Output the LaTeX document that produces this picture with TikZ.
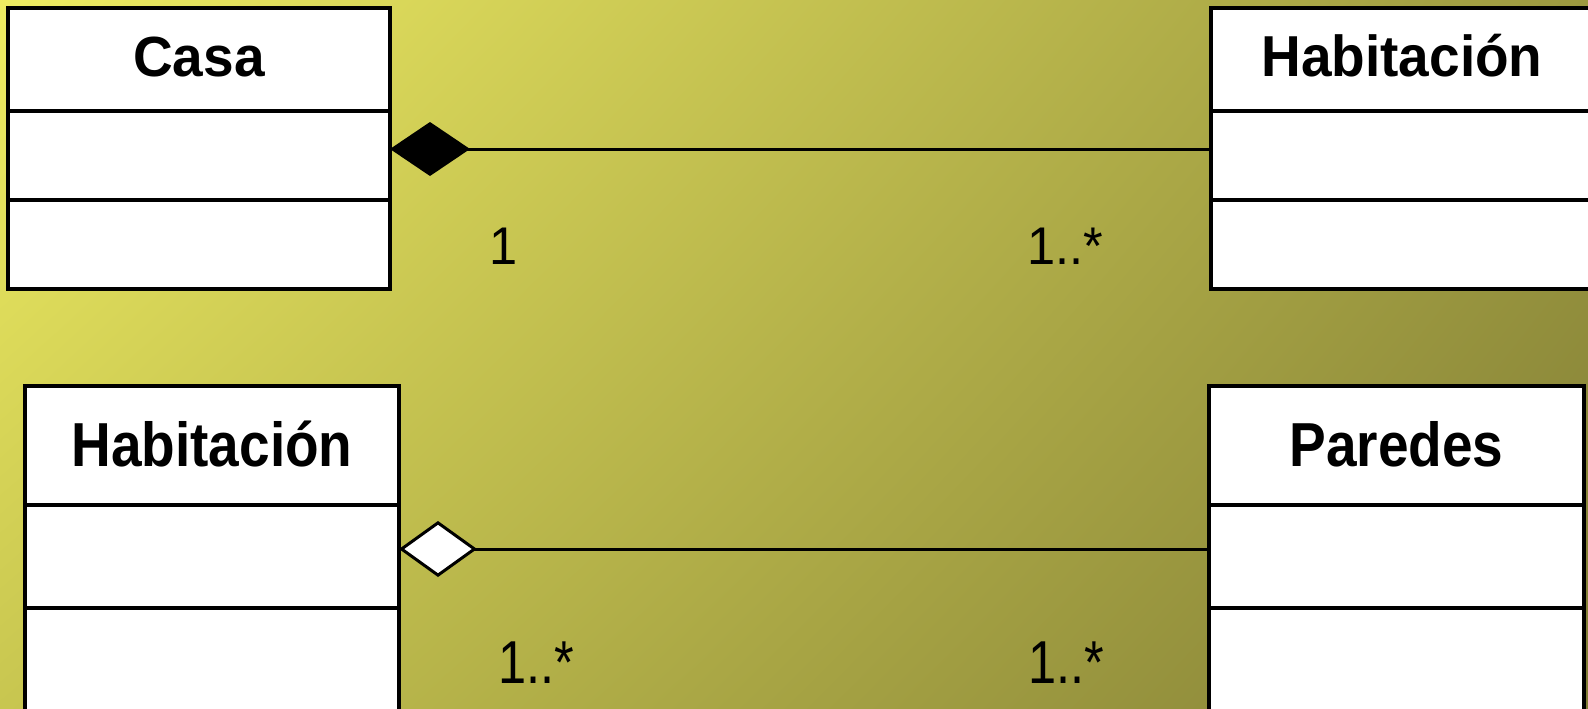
\documentclass[tikz,border=0pt]{standalone}
\usepackage{fontspec}
\setmainfont{Liberation Sans}
\usetikzlibrary{arrows.meta,positioning,shadings}
\definecolor{bgul}{RGB}{238,236,98}
\definecolor{bgur}{RGB}{156,153,64}
\definecolor{bgll}{RGB}{200,198,80}
\definecolor{bglr}{RGB}{130,126,54}

\begin{document}
\begin{tikzpicture}[x=1pt,y=-1pt,
  classbox/.style={draw=black, line width=4pt, fill=white, inner sep=0pt, outer sep=0pt},
  classname/.style={classbox, font=\bfseries\fontsize{55}{55}\selectfont, text height=35pt, text depth=0pt},
  classnameb/.style={classbox, font=\bfseries\fontsize{55}{55}\selectfont, text height=41pt, text depth=0pt},
  mult/.style={inner sep=0pt, anchor=base west, font=\fontsize{50.5}{50.5}\selectfont},
  assoc/.style={draw=black, line width=3pt}]

\useasboundingbox (0,0) rectangle (1588,709);
\shade[upper left=bgul, upper right=bgur, lower left=bgll, lower right=bglr] (0,0) rectangle (1588,709);

% composicion: Casa -- Habitacion
\node[classname, minimum width=382pt, minimum height=103pt, anchor=north west] (casa) at (8,8) {\scalebox{1}[1.03]{Casa}};
\node[classbox, minimum width=382pt, minimum height=89pt, below=0pt of casa] (casaA) {};
\node[classbox, minimum width=382pt, minimum height=89pt, below=0pt of casaA] (casaO) {};

\node[classname, minimum width=382pt, minimum height=103pt, anchor=north west] (habT) at (1211,8) {\scalebox{1}[1.05]{Habitación}};
\node[classbox, minimum width=382pt, minimum height=89pt, below=0pt of habT] (habTA) {};
\node[classbox, minimum width=382pt, minimum height=89pt, below=0pt of habTA] (habTO) {};

\draw[assoc, -{Diamond[length=80pt, width=54pt]}] ([yshift=6.5pt]habTA.west) -- ([yshift=6.5pt]casaA.east);

\node[mult] (mCasa) at (489,264) {\scalebox{1}[1.05]{1}};
\node[mult] (mHabT) at (1027.5,264) {\scalebox{1}[1.05]{1..*}};

% agregacion: Habitacion -- Paredes
\node[classnameb, minimum width=374pt, minimum height=119pt, anchor=north west] (habB) at (25,386) {\scalebox{1}[1.13]{Habitación}};
\node[classbox, minimum width=374pt, minimum height=103pt, below=0pt of habB] (habBA) {};
\node[classbox, minimum width=374pt, minimum height=103pt, below=0pt of habBA] (habBO) {};

\node[classnameb, minimum width=375pt, minimum height=119pt, anchor=north west] (par) at (1209,386) {\scalebox{1}[1.13]{Paredes}};
\node[classbox, minimum width=375pt, minimum height=103pt, below=0pt of par] (parA) {};
\node[classbox, minimum width=375pt, minimum height=103pt, below=0pt of parA] (parO) {};

\draw[assoc, -{Diamond[length=78pt, width=56pt, fill=white]}] ([yshift=7.5pt]parA.west) -- ([yshift=7.5pt]habBA.east);

\node[mult] (mHabB) at (498,683) {\scalebox{1}[1.2]{1..*}};
\node[mult] (mPar) at (1028,683) {\scalebox{1}[1.2]{1..*}};

\end{tikzpicture}
\end{document}
